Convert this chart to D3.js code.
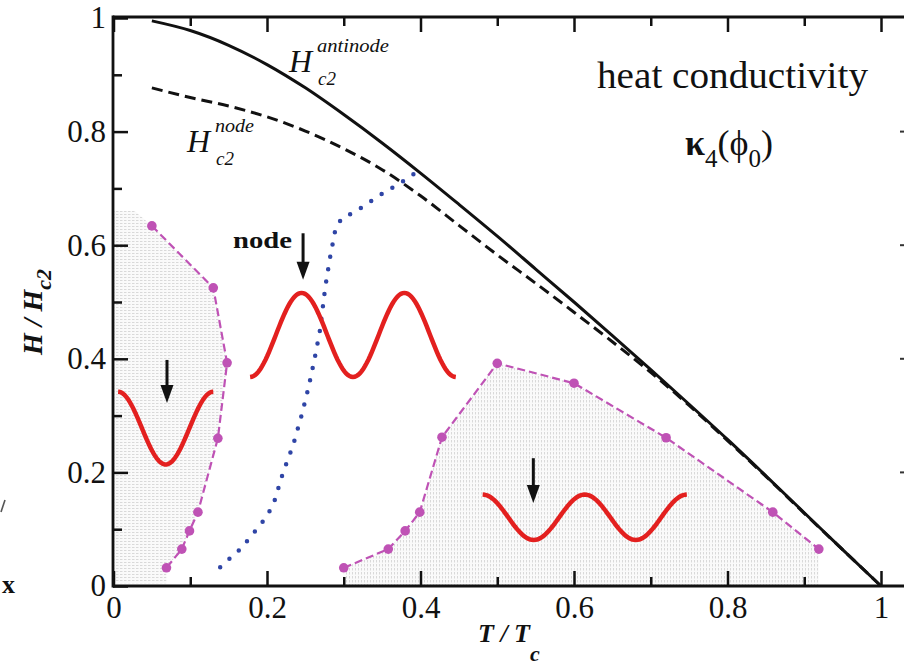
<!DOCTYPE html>
<html><head><meta charset="utf-8">
<script src="https://cdn.jsdelivr.net/npm/d3@7"></script>
<style>
html,body{margin:0;padding:0;background:#fff;}
svg{display:block;}
text{font-family:"Liberation Serif","Times New Roman",serif;fill:#111;}
</style></head>
<body>
<svg id="c" width="904" height="665"></svg>
<script>
// ---- data ----
const hc2T = [0.05,0.10,0.15,0.20,0.25,0.30,0.35,0.40,0.45,0.50,0.55,0.60,0.65,0.70,0.75,0.80,0.85,0.90,0.95,1.00];
const hc2Antinode = [0.995,0.978,0.952,0.918,0.877,0.830,0.780,0.727,0.672,0.616,0.558,0.500,0.441,0.381,0.320,0.258,0.194,0.129,0.064,0.0];
const hc2Node = [0.877,0.860,0.845,0.826,0.801,0.770,0.733,0.687,0.635,0.583,0.533,0.482,0.430,0.376,0.318,0.256,0.193,0.128,0.064,0.0];

const blueT = [0.139,0.152,0.167,0.178,0.191,0.202,0.210,0.221,0.234,0.245,0.254,0.262,0.269,0.276,0.282,0.289,0.297,0.314,0.347,0.380,0.395];
const blueH = [0.033,0.049,0.067,0.086,0.107,0.128,0.151,0.200,0.248,0.300,0.349,0.400,0.450,0.527,0.577,0.627,0.647,0.658,0.688,0.715,0.729];

const leftT = [0.05,0.13,0.148,0.136,0.11,0.099,0.089,0.069];
const leftH = [0.634,0.525,0.393,0.26,0.13,0.097,0.065,0.032];

const rightT = [0.30,0.358,0.38,0.399,0.428,0.50,0.60,0.72,0.859,0.919];
const rightH = [0.032,0.065,0.097,0.13,0.262,0.392,0.357,0.261,0.13,0.065];

const xMajor = [0,0.2,0.4,0.6,0.8,1];
const xMajorLabels = ["0","0.2","0.4","0.6","0.8","1"];
const xMinor = [0.1,0.3,0.5,0.7,0.9];
const yMajor = [0,0.2,0.4,0.6,0.8,1];
const yMajorLabels = ["0","0.2","0.4","0.6","0.8","1"];
const yMinor = [0.1,0.3,0.5,0.7,0.9];

// schematic order-parameter waves (icons): start, end, centre, amplitude, cycles, phase
const waveX0 = [0.006,0.178,0.481];
const waveX1 = [0.130,0.446,0.747];
const waveMid = [0.278,0.442,0.121];
const waveAmp = [0.064,0.074,0.040];
const waveCycles = [1,2,2];
const wavePhase = [0,Math.PI,0];

// arrows: x, top, tip
const arrowX = [0.0697,0.247,0.547];
const arrowTop = [0.398,0.621,0.225];
const arrowTip = [0.322,0.539,0.146];

// ---- chart ----
const FONT = '"Liberation Serif","Times New Roman",serif';
const svg = d3.select("#c");
const x = d3.scaleLinear().domain([0,1]).range([113.5,881]);
const y = d3.scaleLinear().domain([0,1]).range([586,18]);

const defs = svg.append("defs");
const ph = defs.append("pattern").attr("id","hh").attr("patternUnits","userSpaceOnUse").attr("width",4).attr("height",3);
ph.append("rect").attr("width",4).attr("height",3).attr("fill","#fafafa");
ph.append("line").attr("x1",0).attr("x2",4).attr("y1",1.5).attr("y2",1.5).attr("stroke","#d6d6d6").attr("stroke-width",0.9).attr("stroke-dasharray","2.5 1.5");
const pv = defs.append("pattern").attr("id","vv").attr("patternUnits","userSpaceOnUse").attr("width",3).attr("height",4);
pv.append("rect").attr("width",3).attr("height",4).attr("fill","#fafafa");
pv.append("line").attr("y1",0).attr("y2",4).attr("x1",1.5).attr("x2",1.5).attr("stroke","#d6d6d6").attr("stroke-width",0.9).attr("stroke-dasharray","2.5 1.5");

const line = d3.line().x(d=>x(d[0])).y(d=>y(d[1]));

// shaded regions
const leftPts = leftT.map((t,i)=>[t,leftH[i]]);
const leftPoly = [[0,0.66],[0.028,0.66]].concat(leftPts).concat([[0.069,0.005],[0,0.005]]);
svg.append("path").attr("d",line(leftPoly)+"Z").attr("fill","url(#hh)");
const rightPts = rightT.map((t,i)=>[t,rightH[i]]);
const rightPoly = [[0.30,0]].concat(rightPts).concat([[0.919,0]]);
svg.append("path").attr("d",line(rightPoly)+"Z").attr("fill","url(#vv)");

// Hc2 curves
const anti = hc2T.map((t,i)=>[t,hc2Antinode[i]]);
const node = hc2T.map((t,i)=>[t,hc2Node[i]]);
const smooth = d3.line().x(d=>x(d[0])).y(d=>y(d[1])).curve(d3.curveMonotoneX);
svg.append("path").attr("d",smooth(node)).attr("fill","none").attr("stroke","#111").attr("stroke-width",3).attr("stroke-dasharray","11 6");
svg.append("path").attr("d",smooth(anti)).attr("fill","none").attr("stroke","#111").attr("stroke-width",3);

// blue dotted
const blue = blueT.map((t,i)=>[t,blueH[i]]);
svg.append("path").attr("d",line(blue)).attr("fill","none").attr("stroke","#2f45a6").attr("stroke-width",4.5).attr("stroke-linecap","round").attr("stroke-dasharray","0 12.5");

// magenta lines + markers
const mag = "#bf52b5";
[leftPts,rightPts].forEach(pts=>{
  svg.append("path").attr("d",line(pts)).attr("fill","none").attr("stroke",mag).attr("stroke-width",2.2).attr("stroke-dasharray","8 4");
  svg.selectAll(null).data(pts).enter().append("circle")
    .attr("cx",d=>x(d[0])).attr("cy",d=>y(d[1])).attr("r",4.8).attr("fill",mag);
});

// red waves
waveX0.forEach((x0,k)=>{
  const n=120, pts=[];
  for(let i=0;i<=n;i++){const t=i/n; pts.push([x0+(waveX1[k]-x0)*t, waveMid[k]+waveAmp[k]*Math.cos(2*Math.PI*waveCycles[k]*t+wavePhase[k])]);}
  svg.append("path").attr("d",line(pts)).attr("fill","none").attr("stroke","#e3201f").attr("stroke-width",4.5);
});

// arrows
arrowX.forEach((ax,k)=>{
  const px=x(ax), pt=y(arrowTop[k]), pb=y(arrowTip[k]);
  svg.append("line").attr("x1",px).attr("x2",px).attr("y1",pt).attr("y2",pb-12).attr("stroke","#111").attr("stroke-width",3);
  svg.append("path").attr("d",`M${px-6.5},${pb-18} L${px+6.5},${pb-18} L${px},${pb} Z`).attr("fill","#111");
});

// axes
const gB = svg.append("g").attr("transform","translate(0,586)");
gB.call(d3.axisBottom(x).tickValues(xMajor).tickSize(-15).tickPadding(10).tickFormat((d,i)=>xMajorLabels[i]));
gB.append("g").call(d3.axisBottom(x).tickValues(xMinor).tickSize(-9).tickFormat(""));
const gT = svg.append("g").attr("transform","translate(0,17)");
gT.call(d3.axisTop(x).tickValues(xMajor).tickSize(-15).tickFormat(""));
gT.append("g").call(d3.axisTop(x).tickValues(xMinor).tickSize(-9).tickFormat(""));
const gL = svg.append("g").attr("transform","translate(113,0)");
gL.call(d3.axisLeft(y).tickValues(yMajor).tickSize(-15).tickPadding(7).tickFormat((d,i)=>yMajorLabels[i]));
gL.append("g").call(d3.axisLeft(y).tickValues(yMinor).tickSize(-9).tickFormat(""));
svg.selectAll(".domain").remove();
svg.selectAll(".tick line").attr("stroke","#111").attr("stroke-width",2.5);
[gB,gT,gL].forEach(g=>g.attr("font-family",FONT).attr("font-size",31));
svg.selectAll(".tick text").style("font-family",FONT).style("font-size","31px").attr("fill","#111");
// spines
svg.append("line").attr("x1",113).attr("x2",904).attr("y1",586).attr("y2",586).attr("stroke","#111").attr("stroke-width",2.8);
svg.append("line").attr("x1",113).attr("x2",904).attr("y1",17).attr("y2",17).attr("stroke","#111").attr("stroke-width",2.8);
svg.append("line").attr("x1",113).attr("x2",113).attr("y1",15.6).attr("y2",587.4).attr("stroke","#111").attr("stroke-width",2.8);

// neighbour-panel fragments at edges
[0.8,0.6,0.4,0.2].forEach(v=>{
  svg.append("line").attr("x1",900).attr("x2",904).attr("y1",y(v)).attr("y2",y(v)).attr("stroke","#333").attr("stroke-width",2);
});
svg.append("line").attr("x1",1).attr("x2",5).attr("y1",512).attr("y2",500).attr("stroke","#555").attr("stroke-width",1.6);
svg.append("text").attr("x",2).attr("y",593).attr("font-size",26).attr("font-weight","bold").text("x");

// labels
svg.append("text").attr("x",597).attr("y",88).attr("font-size",38).attr("textLength",271).attr("lengthAdjust","spacingAndGlyphs").text("heat conductivity");

const kap = svg.append("text").attr("x",685).attr("y",155).attr("font-size",36);
kap.append("tspan").attr("font-weight","bold").text("κ");
kap.append("tspan").attr("font-size",25).attr("dy",12).text("4");
kap.append("tspan").attr("dy",-12).text("(ϕ");
kap.append("tspan").attr("font-size",25).attr("dy",12).text("0");
kap.append("tspan").attr("dy",-12).text(")");

function hc2Label(xh,yb,sup,supLen){
  const g = svg.append("g");
  g.append("text").attr("x",xh).attr("y",yb).attr("font-size",32).attr("font-style","italic").text("H");
  g.append("text").attr("x",xh+29).attr("y",yb+13).attr("font-size",19).attr("font-style","italic").text("c2");
  g.append("text").attr("x",xh+28).attr("y",yb-20).attr("font-size",18).attr("font-style","italic")
    .attr("textLength",supLen).attr("lengthAdjust","spacingAndGlyphs").text(sup);
}
hc2Label(289,72,"antinode",72);
hc2Label(187,152,"node",39);

svg.append("text").attr("x",233).attr("y",248).attr("font-size",24).attr("font-weight","bold")
  .attr("textLength",59).attr("lengthAdjust","spacingAndGlyphs").text("node");

const xl = svg.append("text").attr("x",478).attr("y",642).attr("font-size",26).attr("font-weight","bold").attr("font-style","italic");
xl.append("tspan").text("T / T");
xl.append("tspan").attr("font-size",22).attr("dy",19).text("c");

const yl = svg.append("text").attr("transform","translate(42,355) rotate(-90)").attr("font-size",28).attr("font-weight","bold").attr("font-style","italic");
yl.append("tspan").text("H / H");
yl.append("tspan").attr("font-size",22).attr("dy",9).text("c2");
</script>
</body></html>
